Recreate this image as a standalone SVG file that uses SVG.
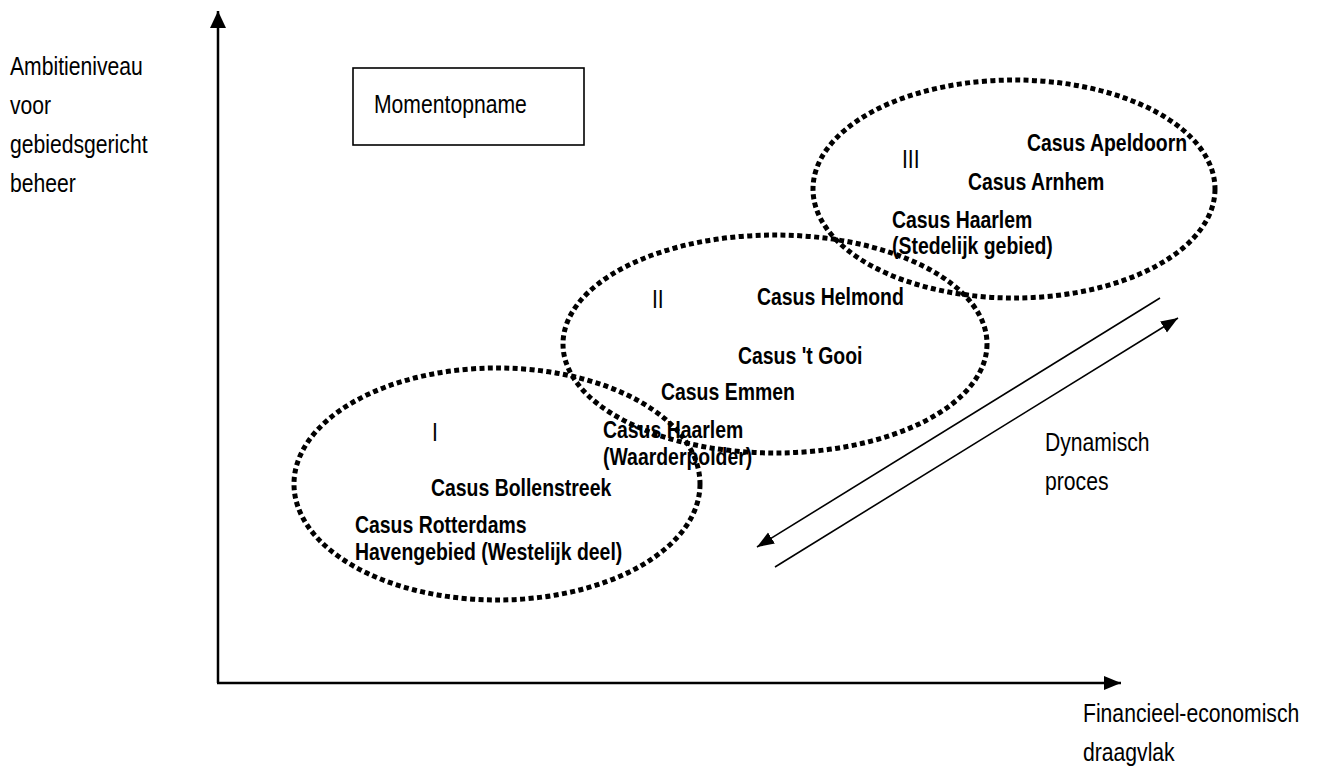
<svg xmlns="http://www.w3.org/2000/svg" width="1317" height="772" viewBox="0 0 1317 772">
  <defs>
    <style>
      text { font-family: "Liberation Sans", Arial, sans-serif; fill: #000; }
      .r { font-size: 25.8px; }
      .b { font-size: 23.7px; font-weight: bold; }
      .axis { stroke: #000; stroke-width: 2.5; fill: none; }
      .flow { stroke: #000; stroke-width: 1.6; fill: none; }
      .zone { fill: none; stroke: #000; stroke-width: 5; stroke-dasharray: 5 3.4; }
    </style>
    <marker id="headAxisY" markerUnits="userSpaceOnUse" markerWidth="18" markerHeight="18" refX="17" refY="8" orient="auto">
      <path d="M0,0 L17,8 L0,16 Z" fill="#000"/>
    </marker>
    <marker id="headAxisX" markerUnits="userSpaceOnUse" markerWidth="18" markerHeight="16" refX="17" refY="7" orient="auto">
      <path d="M0,0 L17,7 L0,14 Z" fill="#000"/>
    </marker>
    <marker id="headFlow" markerUnits="userSpaceOnUse" markerWidth="18" markerHeight="14" refX="17" refY="6.5" orient="auto">
      <path d="M0,0 L17,6.5 L0,13 Z" fill="#000"/>
    </marker>
  </defs>

  <!-- axes and process arrows -->
  <g id="connectors">
    <line class="axis" x1="218" y1="683" x2="218" y2="11" marker-end="url(#headAxisY)"/>
    <line class="axis" x1="217" y1="683" x2="1121" y2="683" marker-end="url(#headAxisX)"/>
    <line class="flow" x1="1160" y1="298" x2="757" y2="547" marker-end="url(#headFlow)"/>
    <line class="flow" x1="775" y1="567" x2="1178" y2="318" marker-end="url(#headFlow)"/>
  </g>

  <!-- axis labels -->
  <g id="label-y">
    <text class="r" transform="translate(10 75) scale(0.82 1)"><tspan x="0" y="0">Ambitieniveau</tspan><tspan x="0" dy="39">voor</tspan><tspan x="0" dy="39">gebiedsgericht</tspan><tspan x="0" dy="39">beheer</tspan></text>
  </g>
  <g id="label-x">
    <text class="r" transform="translate(1083 722) scale(0.82 1)"><tspan x="0" y="0">Financieel-economisch</tspan><tspan x="0" dy="39">draagvlak</tspan></text>
  </g>

  <g id="momentopname">
    <rect x="353" y="68" width="231" height="77" fill="#fff" stroke="#000" stroke-width="1.6"/>
    <text class="r" transform="translate(374 113) scale(0.82 1)">Momentopname</text>
  </g>

  <g id="dynamisch-proces">
    <text class="r" transform="translate(1045 451) scale(0.82 1)"><tspan x="0" y="0">Dynamisch</tspan><tspan x="0" dy="39">proces</tspan></text>
  </g>

  <!-- case labels -->
  <g id="label-III">
    <text class="r" transform="translate(902 168) scale(0.82 1)">III</text>
  </g>
  <g id="casus-apeldoorn">
    <text class="b" transform="translate(1027 151) scale(0.82 1)">Casus Apeldoorn</text>
  </g>
  <g id="casus-arnhem">
    <text class="b" transform="translate(968 190) scale(0.82 1)">Casus Arnhem</text>
  </g>
  <g id="casus-haarlem-stedelijk">
    <text class="b" transform="translate(892 228) scale(0.82 1)"><tspan x="0" y="0">Casus Haarlem</tspan><tspan x="0" dy="26">(Stedelijk gebied)</tspan></text>
  </g>

  <g id="label-II">
    <text class="r" transform="translate(652 308) scale(0.82 1)">II</text>
  </g>
  <g id="casus-helmond">
    <text class="b" transform="translate(757 305) scale(0.82 1)">Casus Helmond</text>
  </g>
  <g id="casus-gooi">
    <text class="b" transform="translate(738 364) scale(0.82 1)">Casus 't Gooi</text>
  </g>
  <g id="casus-emmen">
    <text class="b" transform="translate(661 400) scale(0.82 1)">Casus Emmen</text>
  </g>
  <g id="casus-haarlem-waarderpolder">
    <text class="b" transform="translate(603 438) scale(0.82 1)"><tspan x="0" y="0">Casus Haarlem</tspan><tspan x="0" dy="27">(Waarderpolder)</tspan></text>
  </g>

  <g id="label-I">
    <text class="r" transform="translate(432 441) scale(0.82 1)">I</text>
  </g>
  <g id="casus-bollenstreek">
    <text class="b" transform="translate(431 496) scale(0.82 1)">Casus Bollenstreek</text>
  </g>
  <g id="casus-rotterdam">
    <text class="b" transform="translate(355 533) scale(0.82 1)"><tspan x="0" y="0">Casus Rotterdams</tspan><tspan x="0" dy="27">Havengebied (Westelijk deel)</tspan></text>
  </g>

  <!-- dotted clusters, drawn over the labels -->
  <g id="cluster-I">
    <ellipse class="zone" cx="497" cy="484" rx="203" ry="116"/>
  </g>
  <g id="cluster-II">
    <ellipse class="zone" cx="775" cy="344" rx="212" ry="109"/>
  </g>
  <g id="cluster-III">
    <ellipse class="zone" cx="1014" cy="189" rx="201" ry="109"/>
  </g>
</svg>
